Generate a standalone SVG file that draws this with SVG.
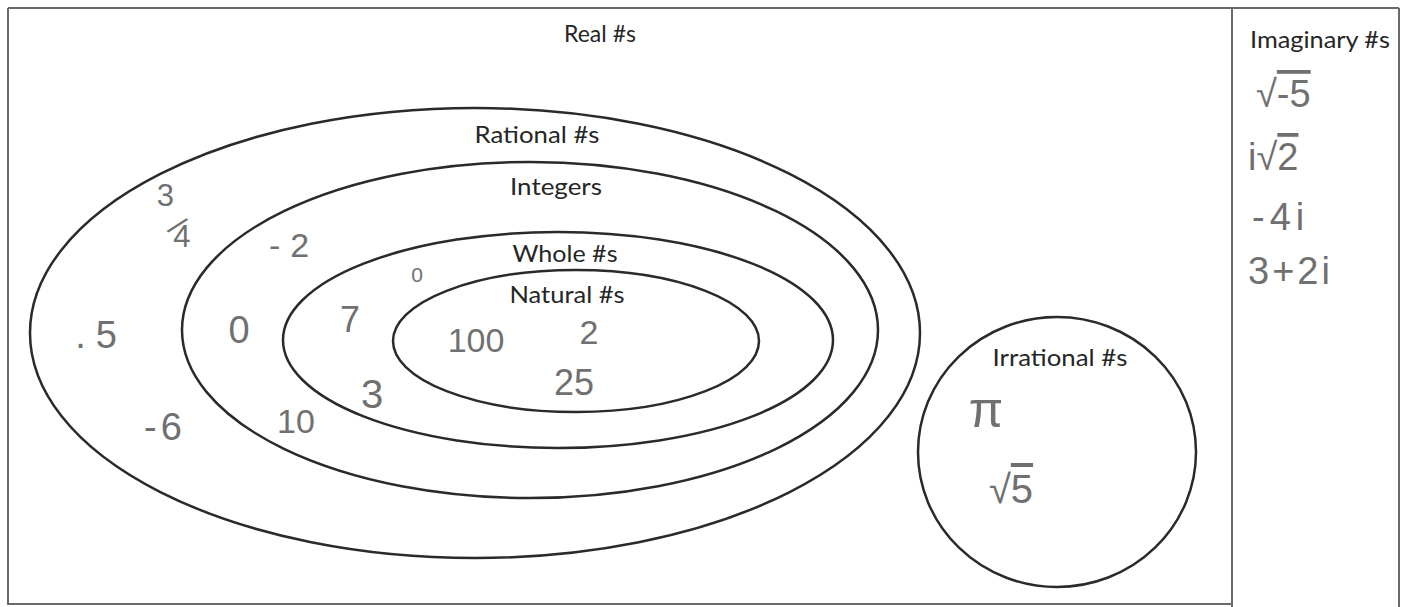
<svg xmlns="http://www.w3.org/2000/svg" width="1406" height="607" viewBox="0 0 1406 607">
<style>
.frame{fill:none;stroke:#6a6a6a;stroke-width:2}
.set{fill:none;stroke:#2a2a2a;stroke-width:2.5}
.lbl{font-family:Lato,"Open Sans","Liberation Sans",sans-serif;font-size:24px;fill:#262626;text-anchor:middle}
.hw{font-family:"Liberation Sans","DejaVu Sans",sans-serif;fill:#707070;text-anchor:middle}
.hs{font-family:"Liberation Sans","DejaVu Sans",sans-serif;fill:#707070;text-anchor:start}
.ov{text-decoration:overline}
</style>
<rect width="1406" height="607" fill="#ffffff"/>
<g id="real">
  <path class="frame" d="M8 8 H1399 M8 8 V604 H1232"/>
  <text class="lbl" x="600" y="42" textLength="72" lengthAdjust="spacingAndGlyphs">Real #s</text>
</g>
<g id="imaginary">
  <path class="frame" d="M1232 8 V607 M1399 8 V607"/>
  <text class="lbl" x="1320" y="48" textLength="140" lengthAdjust="spacingAndGlyphs">Imaginary #s</text>
  <text class="hs" x="1256" y="107" font-size="38">√<tspan class="ov">-5</tspan></text>
  <text class="hs" x="1248" y="170" font-size="38">i√<tspan class="ov">2</tspan></text>
  <text class="hs" x="1252" y="230" font-size="38" letter-spacing="5">-4i</text>
  <text class="hs" x="1248" y="284" font-size="38" letter-spacing="3">3+2i</text>
</g>
<g id="rational">
  <ellipse class="set" cx="475" cy="333" rx="445" ry="225"/>
  <text class="lbl" x="537" y="143" textLength="125" lengthAdjust="spacingAndGlyphs">Rational #s</text>
  <text class="hw" font-size="31" transform="translate(170,239) rotate(68)" text-anchor="start" letter-spacing="9" rotate="-68 -26 -68">3/4</text>
  <text class="hw" x="96" y="348" font-size="38">.<tspan dx="10">5</tspan></text>
  <text class="hw" x="165" y="440" font-size="38" letter-spacing="4">-6</text>
</g>
<g id="integers">
  <ellipse class="set" cx="530" cy="330" rx="348" ry="168"/>
  <text class="lbl" x="556" y="195" textLength="92" lengthAdjust="spacingAndGlyphs">Integers</text>
  <text class="hw" x="294" y="257" font-size="34" letter-spacing="10">-2</text>
  <text class="hw" x="239" y="343" font-size="38">0</text>
  <text class="hw" x="296" y="433" font-size="34">10</text>
</g>
<g id="whole">
  <ellipse class="set" cx="558" cy="340" rx="275" ry="108"/>
  <text class="lbl" x="565" y="262" textLength="105" lengthAdjust="spacingAndGlyphs">Whole #s</text>
  <text class="hw" x="417" y="282" font-size="21">0</text>
  <text class="hw" x="350" y="332" font-size="36">7</text>
  <text class="hw" x="372" y="408" font-size="40">3</text>
</g>
<g id="natural">
  <ellipse class="set" cx="576" cy="341" rx="183" ry="71"/>
  <text class="lbl" x="567" y="303" textLength="115" lengthAdjust="spacingAndGlyphs">Natural #s</text>
  <text class="hw" x="476" y="352" font-size="34">100</text>
  <text class="hw" x="589" y="344" font-size="34">2</text>
  <text class="hw" x="574" y="395" font-size="36">25</text>
</g>
<g id="irrational">
  <ellipse class="set" cx="1057" cy="452" rx="139" ry="135"/>
  <text class="lbl" x="1060" y="366" textLength="135" lengthAdjust="spacingAndGlyphs">Irrational #s</text>
  <text class="hw" x="986" y="427" font-size="50">π</text>
  <text class="hw" x="1011" y="503" font-size="40">√<tspan class="ov">5</tspan></text>
</g>
<g id="connectors"/>
</svg>
